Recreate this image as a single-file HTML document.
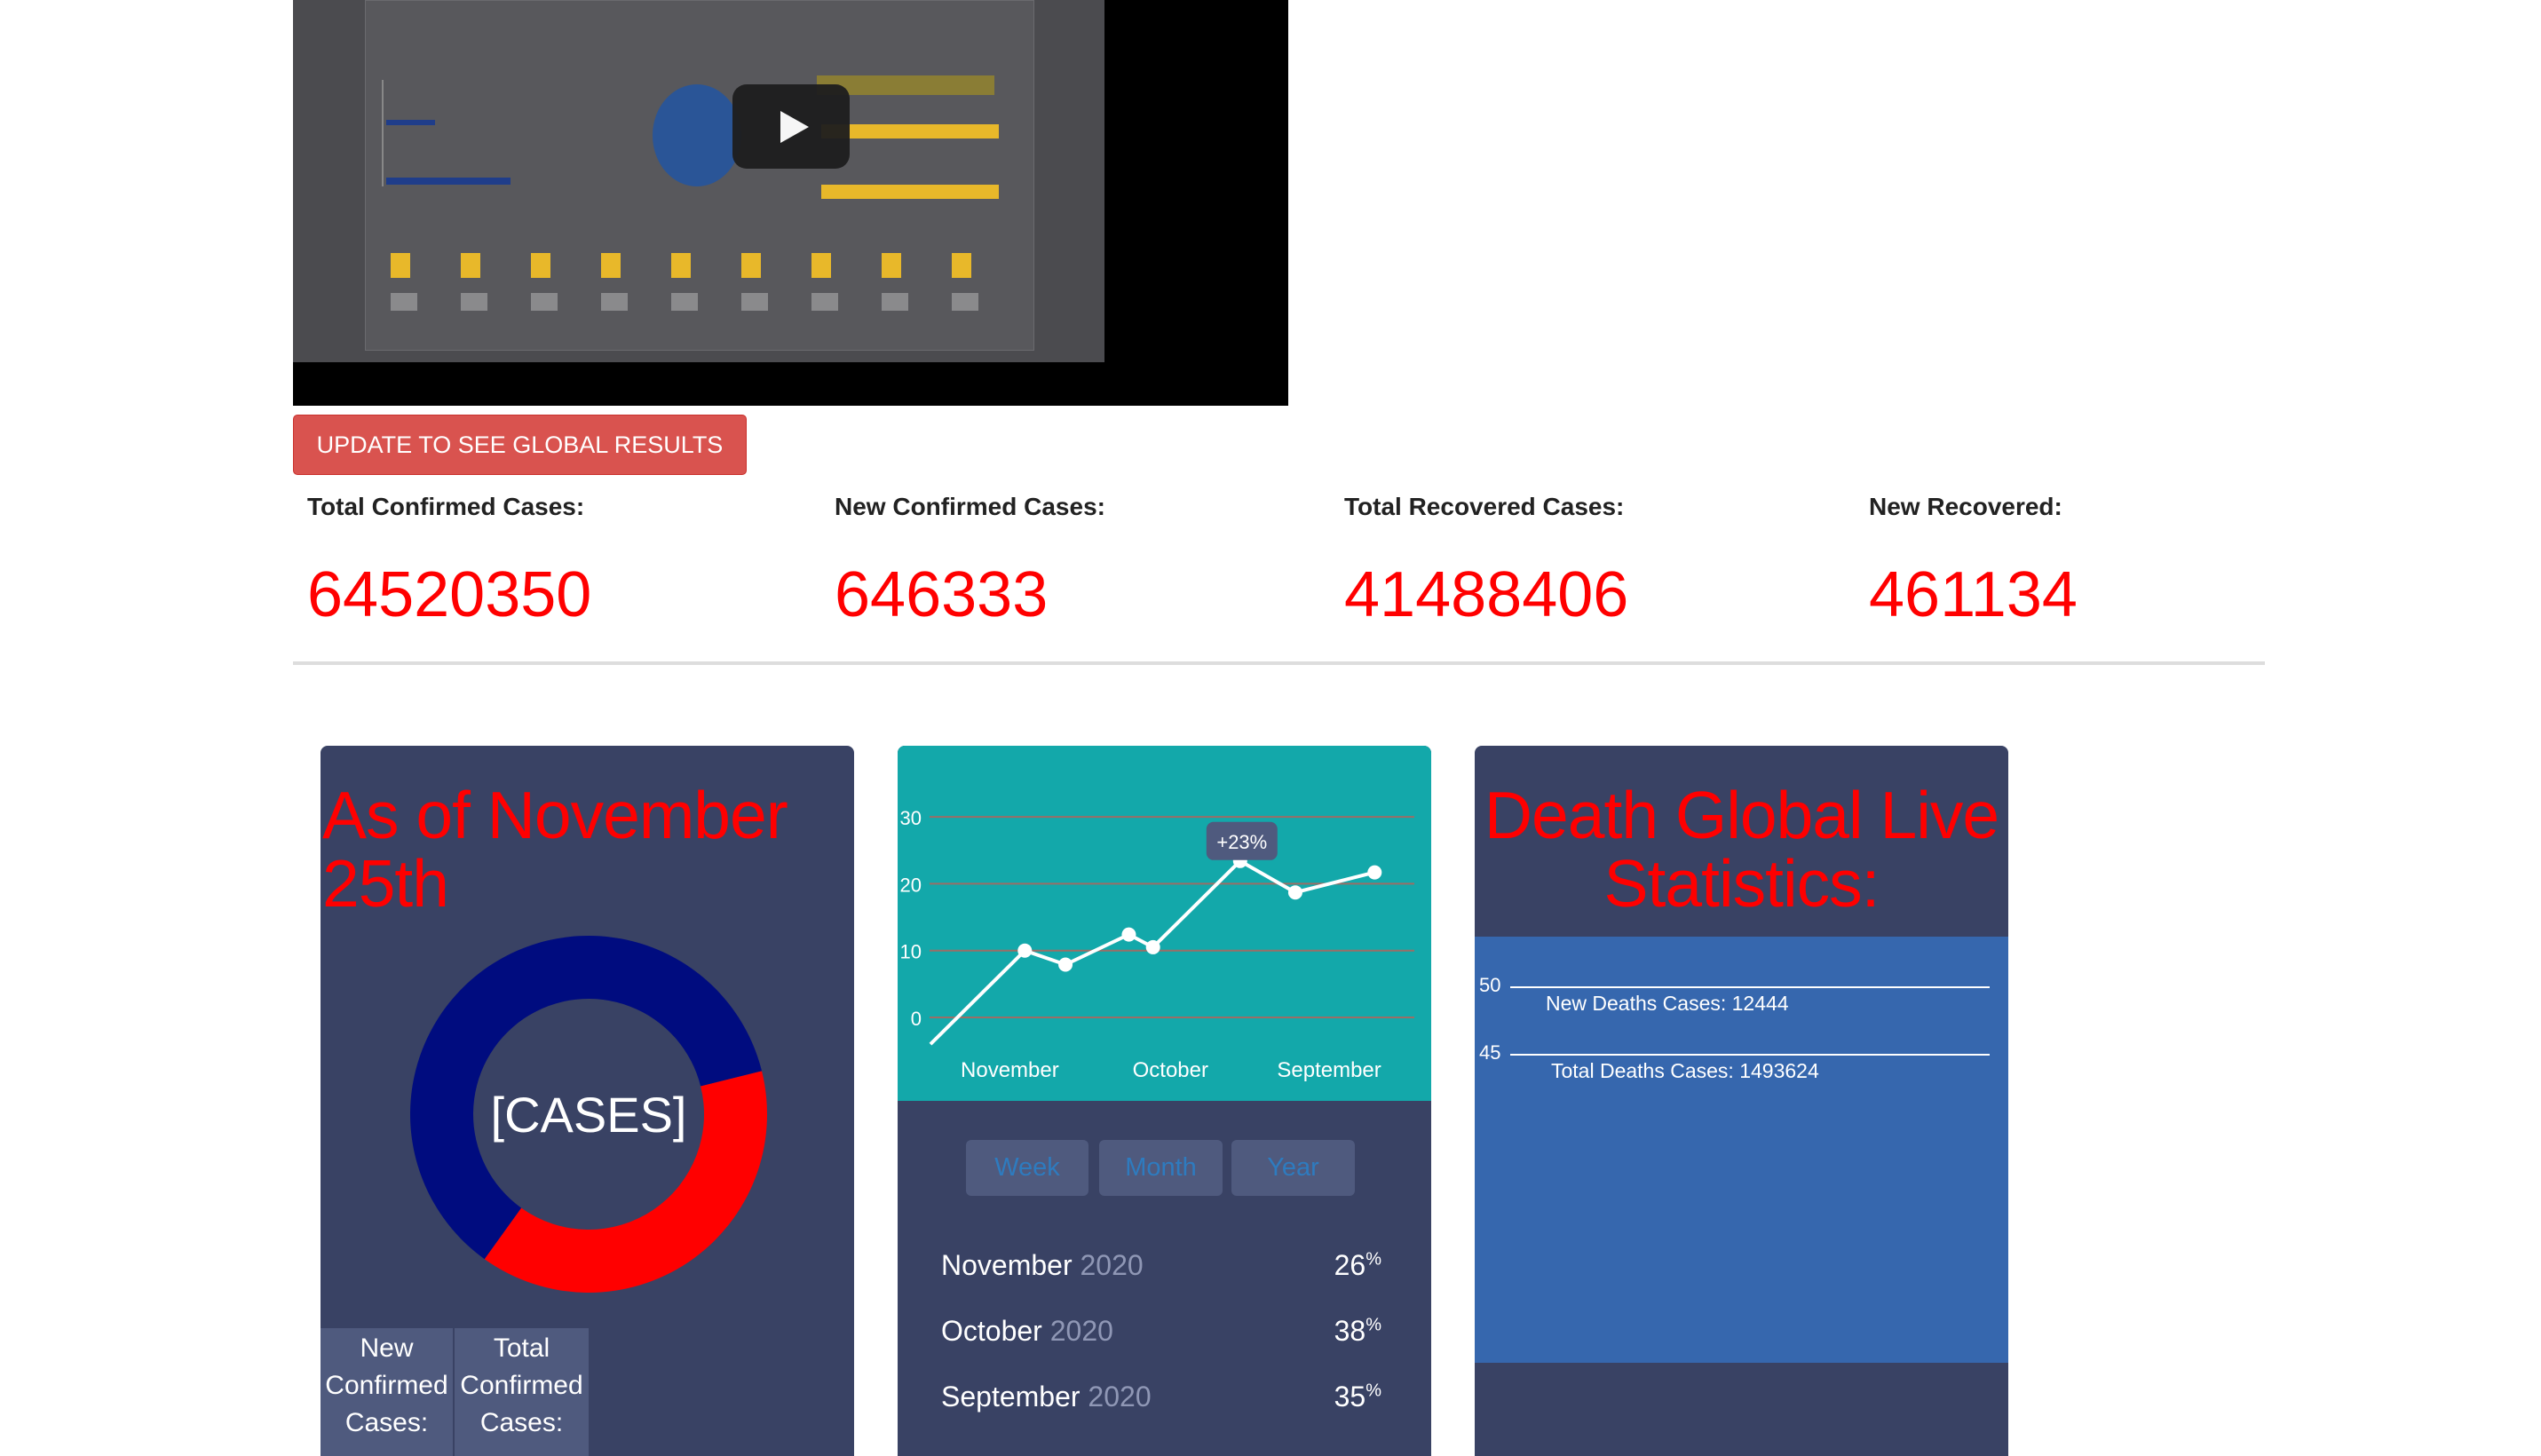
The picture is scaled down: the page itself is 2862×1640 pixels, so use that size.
<!DOCTYPE html>
<html><head><meta charset="utf-8">
<style>
body{margin:0;width:2862px;height:1631px;background:#fff;position:relative;overflow:hidden;font-family:"Liberation Sans",Arial,sans-serif;}
.abs{position:absolute;}
.lbl{font-weight:bold;font-size:28px;color:#222;top:555px;}
.num{font-size:72px;color:#f00;top:628px;line-height:84px;}
.card{background:#394264;top:840px;width:601px;height:800px;border-radius:8px 8px 0 0;overflow:hidden;}
.title{color:#f00;font-size:75px;line-height:77px;letter-spacing:-1px;}
.tbtn{background:#4f5a7e;color:#2e7bbf;font-size:29px;text-align:center;line-height:63px;height:63px;border-radius:6px;top:444px;}
.row{color:#fff;font-size:32px;left:49px;width:496px;}
.row span.y{color:#8f97b5}
.row .p{position:absolute;right:0;top:0}
.row .p sup{font-size:20px}
</style></head><body>
<div class="abs" style="left:330px;top:0;width:1121px;height:457px;background:#000;">
  <div class="abs" style="left:0;top:0;width:914px;height:408px;background:#4b4b4f;">
    <div class="abs" style="left:81px;top:0;width:752px;height:393px;background:#58585c;border:1px solid #6a6a6e"></div>
    <div class="abs" style="left:100px;top:90px;width:150px;height:120px;border-left:2px solid #888"></div>
    <div class="abs" style="left:105px;top:200px;width:140px;height:8px;background:#1f3d8a"></div>
    <div class="abs" style="left:105px;top:135px;width:55px;height:6px;background:#1f3d8a"></div>
    <div class="abs" style="left:405px;top:95px;width:100px;height:115px;border-radius:50%;background:#2a5597"></div>
    <div class="abs" style="left:590px;top:85px;width:200px;height:22px;background:#8a7d35"></div>
    <div class="abs" style="left:595px;top:140px;width:200px;height:16px;background:#e8b82a"></div>
    <div class="abs" style="left:595px;top:208px;width:200px;height:16px;background:#e8b82a"></div>
    <div class="abs" style="left:110px;top:285px;width:700px;height:28px;background:repeating-linear-gradient(90deg,#e8b82a 0 22px,transparent 22px 79px)"></div>
    <div class="abs" style="left:110px;top:330px;width:700px;height:20px;background:repeating-linear-gradient(90deg,#bbb 0 30px,transparent 30px 79px);opacity:.5"></div>
  </div>
  <div class="abs" style="left:495px;top:95px;width:132px;height:95px;background:#1e1e1e;border-radius:16px;opacity:.95">
    <div class="abs" style="left:54px;top:30px;width:0;height:0;border-left:32px solid #fff;border-top:18px solid transparent;border-bottom:18px solid transparent"></div>
  </div>
</div>
<div class="abs" style="left:330px;top:467px;width:509px;height:66px;background:#d9534f;border:1px solid #c9302c;border-radius:5px;color:#fff;font-size:27px;line-height:66px;text-align:center;">UPDATE TO SEE GLOBAL RESULTS</div>

<div class="abs lbl" style="left:346px">Total Confirmed Cases:</div>
<div class="abs lbl" style="left:940px">New Confirmed Cases:</div>
<div class="abs lbl" style="left:1514px">Total Recovered Cases:</div>
<div class="abs lbl" style="left:2105px">New Recovered:</div>
<div class="abs num" style="left:346px">64520350</div>
<div class="abs num" style="left:940px">646333</div>
<div class="abs num" style="left:1514px">41488406</div>
<div class="abs num" style="left:2105px">461134</div>
<div class="abs" style="left:330px;top:745px;width:2221px;height:4px;background:#ddd"></div>

<div class="abs card" style="left:361px">
  <div class="abs title" style="left:2px;top:40px;width:600px">As of November 25th</div>
  <svg class="abs" style="left:0;top:0" width="601" height="800" id="donut"></svg>
  <div class="abs" style="left:0;top:656px;width:302px;height:150px;color:#fff;font-size:30px;line-height:42px;text-align:center">
    <div class="abs" style="left:0;top:0;width:149px;height:150px;background:#4f5a7e;padding-top:2px">New Confirmed Cases:</div>
    <div class="abs" style="left:151px;top:0;width:151px;height:150px;background:#4f5a7e;padding-top:2px">Total Confirmed Cases:</div>
  </div>
</div>

<div class="abs card" style="left:1011px">
  <svg class="abs" style="left:0;top:0" width="601" height="400" id="trend"></svg>
  <div class="abs tbtn" style="left:77px;width:138px">Week</div>
  <div class="abs tbtn" style="left:227px;width:139px">Month</div>
  <div class="abs tbtn" style="left:376px;width:139px">Year</div>
  <div class="abs row" style="top:567px">November <span class="y">2020</span><span class="p">26<sup>%</sup></span></div>
  <div class="abs row" style="top:641px">October <span class="y">2020</span><span class="p">38<sup>%</sup></span></div>
  <div class="abs row" style="top:715px">September <span class="y">2020</span><span class="p">35<sup>%</sup></span></div>
</div>

<div class="abs card" style="left:1661px">
  <div class="abs title" style="left:0;top:40px;width:601px;text-align:center">Death Global Live Statistics:</div>
  <div class="abs" style="left:0;top:215px;width:601px;height:480px;background:#3667ae;color:#fff">
    <div class="abs" style="left:5px;top:42px;font-size:22px">50</div>
    <div class="abs" style="left:40px;top:56px;width:540px;height:2px;background:#fff"></div>
    <div class="abs" style="left:80px;top:62px;font-size:23px">New Deaths Cases: 12444</div>
    <div class="abs" style="left:5px;top:118px;font-size:22px">45</div>
    <div class="abs" style="left:40px;top:132px;width:540px;height:2px;background:#fff"></div>
    <div class="abs" style="left:86px;top:138px;font-size:23px">Total Deaths Cases: 1493624</div>
  </div>
</div>

<script>
// donut data
const donutLabels = ["Total", "New"];
const donutValues = [61.2, 38.8];
const donutColors = ["#000c7f", "#ff0000"];
// trend data
const trendX = [0, 19.5, 27.9, 41, 46, 64, 75.4, 91.8];
const trendY = [-4, 10, 7.9, 12.4, 10.5, 23.4, 18.7, 21.7];
const yTicks = [0, 10, 20, 30];
const xLabels = ["November", "October", "September"];
const xLabelPos = [16.4, 49.6, 82.4];
const tooltipText = "+23%";
const tooltipIndex = 5;

const NS = "http://www.w3.org/2000/svg";
function mk(parent, tag, attrs){const e=document.createElementNS(NS,tag);for(const k in attrs)e.setAttribute(k,attrs[k]);parent.appendChild(e);return e;}

(function(){
  const svg=document.getElementById('donut');
  const cx=302, cy=415, R=201, r=130;
  const total=donutValues.reduce((a,b)=>a+b,0);
  let start = -14*Math.PI/180 - donutValues[0]/total*2*Math.PI;
  donutValues.forEach((v,i)=>{
    const a0=start, a1=start+v/total*2*Math.PI; start=a1;
    const large=(a1-a0)>Math.PI?1:0;
    const p=`M${cx+R*Math.cos(a0)},${cy+R*Math.sin(a0)} A${R},${R} 0 ${large} 1 ${cx+R*Math.cos(a1)},${cy+R*Math.sin(a1)} L${cx+r*Math.cos(a1)},${cy+r*Math.sin(a1)} A${r},${r} 0 ${large} 0 ${cx+r*Math.cos(a0)},${cy+r*Math.sin(a0)} Z`;
    const el=mk(svg,'path',{d:p,fill:donutColors[i]});
    
    
  });
  const t=mk(svg,'text',{x:cx,y:cy+20,'text-anchor':'middle','font-size':56,fill:'#fff','font-family':'Liberation Sans, sans-serif'});
  t.textContent='[CASES]';
  
  
})();

(function(){
  const svg=document.getElementById('trend');
  mk(svg,'rect',{x:0,y:0,width:601,height:400,fill:'#13a8aa'});
  const x=v=>37+v*5.45;
  const y=v=>306-v*7.53;
  yTicks.forEach(t=>{
    const l=mk(svg,'line',{x1:36,x2:582,y1:y(t),y2:y(t),stroke:'#9a6e66','stroke-width':2});
    
    
    const tx=mk(svg,'text',{x:27,y:y(t)+9,'text-anchor':'end','font-size':22,fill:'#fff','font-family':'Liberation Sans, sans-serif'});
    tx.textContent=t;
    
    
  });
  xLabels.forEach((s,i)=>{
    const tx=mk(svg,'text',{x:x(xLabelPos[i]),y:373,'text-anchor':'middle','font-size':24,fill:'#fff','font-family':'Liberation Sans, sans-serif'});
    tx.textContent=s;
    
    
  });
  const pts=trendX.map((v,i)=>x(v)+','+y(trendY[i])).join(' ');
  const pl=mk(svg,'polyline',{points:pts,fill:'none',stroke:'#fff','stroke-width':4});
  
  
  trendX.forEach((v,i)=>{
    if(i===0)return;
    const c=mk(svg,'circle',{cx:x(v),cy:y(trendY[i]),r:8,fill:'#fff'});
    
    
  });
  const tx0=x(trendX[tooltipIndex]), ty0=y(trendY[tooltipIndex]);
  const g=mk(svg,'g',{});
  
  
  mk(g,'rect',{x:tx0-38,y:ty0-44,width:80,height:43,rx:8,fill:'#4f5a7e'});
  const tt=mk(g,'text',{x:tx0+2,y:ty0-14,'text-anchor':'middle','font-size':22,fill:'#fff','font-family':'Liberation Sans, sans-serif'});
  tt.textContent=tooltipText;
})();
</script>
</body></html>
